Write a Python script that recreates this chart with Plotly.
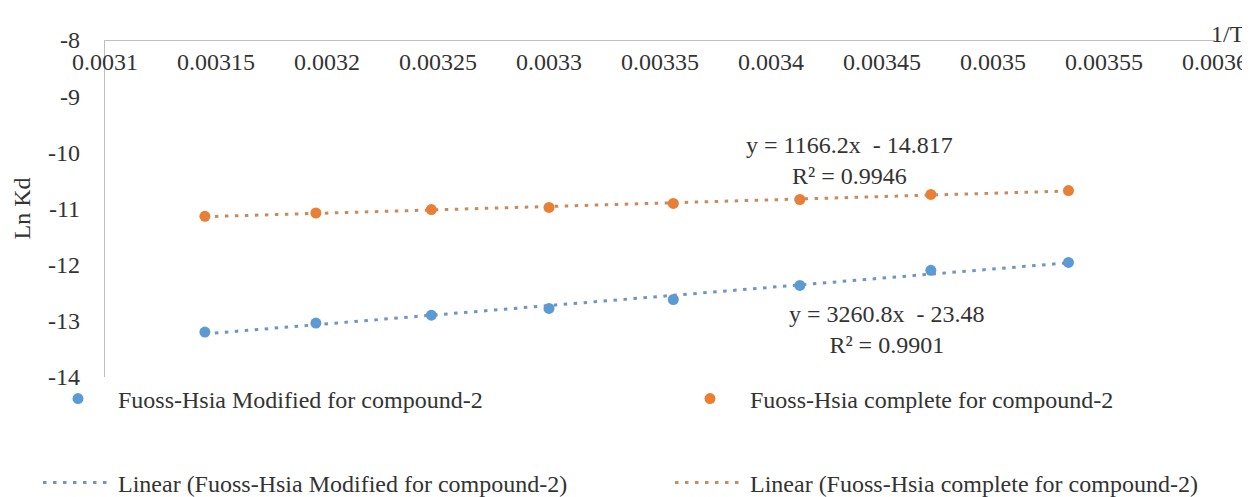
import numpy as np
import plotly.graph_objects as go

# ---- data ----
inv_T = [0.003145, 0.003195, 0.003247, 0.003300, 0.003356, 0.003413, 0.003472, 0.003534]
ln_kd_modified = [-13.20, -13.04, -12.90, -12.78, -12.62, -12.37, -12.10, -11.96]
ln_kd_complete = [-11.14, -11.08, -11.02, -10.98, -10.91, -10.84, -10.75, -10.68]

name_modified = "Fuoss-Hsia Modified for compound-2"
name_complete = "Fuoss-Hsia complete for compound-2"

x_ticks = [0.0031, 0.00315, 0.0032, 0.00325, 0.0033, 0.00335, 0.0034, 0.00345, 0.0035, 0.00355, 0.0036]
x_tick_labels = ["0.0031", "0.00315", "0.0032", "0.00325", "0.0033", "0.00335",
                 "0.0034", "0.00345", "0.0035", "0.00355", "0.0036"]
y_ticks = [-14, -13, -12, -11, -10, -9, -8]
y_tick_labels = ["-14", "-13", "-12", "-11", "-10", "-9", "-8"]

eq_complete = "y = 1166.2x  - 14.817<br>R² = 0.9946"
eq_modified = "y = 3260.8x  - 23.48<br>R² = 0.9901"

BLUE = "#5B9BD5"
ORANGE = "#ED7D31"
BLUE_TR = "#6f95c0"
ORANGE_TR = "#c98a5c"
FONT = '"Liberation Serif", "Times New Roman", Times, serif'
TXT = "#333333"
FS = 24

x = np.array(inv_T)


def fit_line(y):
    k, b = np.polyfit(x, np.array(y), 1)
    xs = np.array([x.min(), x.max()])
    return xs, k * xs + b


fig = go.Figure()
fig.add_trace(go.Scatter(x=inv_T, y=ln_kd_modified, mode="markers", name=name_modified,
                         marker=dict(color=BLUE, size=11), legend="legend"))
fig.add_trace(go.Scatter(x=inv_T, y=ln_kd_complete, mode="markers", name=name_complete,
                         marker=dict(color=ORANGE, size=11), legend="legend2"))
xs, ys = fit_line(ln_kd_modified)
fig.add_trace(go.Scatter(x=xs, y=ys, mode="lines", name="Linear (" + name_modified + ")",
                         line=dict(color=BLUE_TR, width=3, dash="3.5px,6.5px"), legend="legend3"))
xs, ys = fit_line(ln_kd_complete)
fig.add_trace(go.Scatter(x=xs, y=ys, mode="lines", name="Linear (" + name_complete + ")",
                         line=dict(color=ORANGE_TR, width=3, dash="3.5px,6.5px"), legend="legend4"))


def leg(xpx, ypx):
    return dict(orientation="h", xref="container", yref="container",
                x=xpx / 1250, y=1 - ypx / 497, xanchor="left", yanchor="middle",
                itemwidth=70, font=dict(family=FONT, size=FS, color=TXT),
                bgcolor="rgba(0,0,0,0)", borderwidth=0)


fig.update_layout(
    width=1250, height=497,
    margin=dict(l=97, r=43, t=32, b=128, autoexpand=False),
    paper_bgcolor="white", plot_bgcolor="white",
    font=dict(family=FONT, size=FS, color=TXT),
    xaxis=dict(range=[0.0031, 0.0036], anchor="free", position=1, side="bottom",
               showline=True, linecolor="#BFBFBF", linewidth=1.3,
               tickvals=x_ticks, ticktext=x_tick_labels, ticks="",
               showgrid=False, zeroline=False, automargin=False,
               tickfont=dict(family=FONT, size=FS, color=TXT)),
    yaxis=dict(range=[-14, -8], showline=True, linecolor="#BFBFBF", linewidth=1.3,
               tickvals=y_ticks, ticktext=y_tick_labels, ticks="",
               showgrid=False, zeroline=False, automargin=False,
               ticklabelstandoff=19,
               tickfont=dict(family=FONT, size=FS, color=TXT),
               title=dict(text="Ln Kd", font=dict(family=FONT, size=FS, color=TXT), standoff=10)),
    legend=leg(30, 391),
    legend2=leg(662, 391),
    legend3=leg(30, 475),
    legend4=leg(662, 475),
    showlegend=True,
    annotations=[
        dict(text="1/T", xref="paper", yref="paper", x=1, y=1, xanchor="left", yanchor="bottom",
             showarrow=False, yshift=-9, xshift=-6, font=dict(family=FONT, size=FS, color=TXT)),
        dict(text=eq_complete, xref="paper", yref="paper", x=0.671, y=0.642,
             xanchor="center", yanchor="middle", showarrow=False,
             font=dict(family=FONT, size=FS, color=TXT)),
        dict(text=eq_modified, xref="paper", yref="paper", x=0.7045, y=0.141,
             xanchor="center", yanchor="middle", showarrow=False,
             font=dict(family=FONT, size=FS, color=TXT)),
    ],
)

fig.write_html("out.html")
